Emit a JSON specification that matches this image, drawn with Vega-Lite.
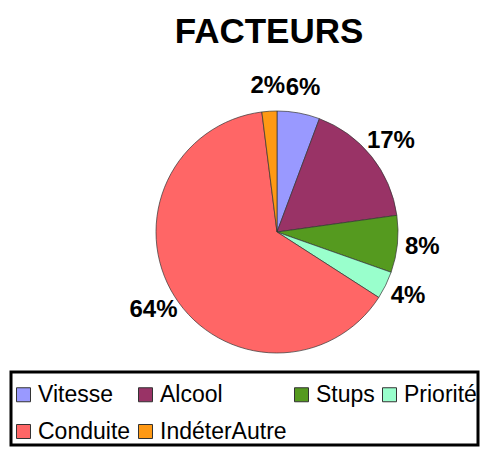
{
  "$schema": "https://vega.github.io/schema/vega-lite/v6.json",
  "autosize": {"type": "none"},
  "padding": {"left": 71, "top": 60, "right": 0, "bottom": 47},
  "width": 412,
  "height": 344,
  "title": {"text": "FACTEURS", "font": "Liberation Sans", "fontSize": 35, "fontWeight": "bold", "color": "#000000", "anchor": "middle", "dx": -8, "offset": 10},
  "data": {"values": [
    {"facteur": "Vitesse", "pct": 5.7, "label": "6%", "ordre": 1},
    {"facteur": "Alcool", "pct": 17.1, "label": "17%", "ordre": 2},
    {"facteur": "Stups", "pct": 7.6, "label": "8%", "ordre": 3},
    {"facteur": "Priorité", "pct": 3.7, "label": "4%", "ordre": 4},
    {"facteur": "Conduite", "pct": 63.9, "label": "64%", "ordre": 5},
    {"facteur": "IndéterAutre", "pct": 2.0, "label": "2%", "ordre": 6}
  ]},
  "encoding": {
    "theta": {"field": "pct", "type": "quantitative", "stack": true},
    "order": {"field": "ordre", "type": "quantitative"}
  },
  "layer": [
    {
      "mark": {"type": "arc", "outerRadius": 121, "stroke": "#333333", "strokeWidth": 0.7},
      "encoding": {
        "color": {
          "field": "facteur", "type": "nominal",
          "scale": {"domain": ["Vitesse", "Alcool", "Stups", "Priorité", "Conduite", "IndéterAutre"],
                    "range": ["#9999FF", "#993366", "#559A1F", "#99FFCC", "#FF6666", "#FF9914"]},
          "legend": {
            "title": " ", "titleFontSize": 10, "titlePadding": 0,
            "orient": "none", "legendX": -60, "legendY": 312,
            "direction": "horizontal", "columns": 4, "columnPadding": 3, "rowPadding": 13,
            "symbolType": "square", "symbolSize": 196, "symbolStrokeColor": "#333333", "symbolStrokeWidth": 1,
            "labelFont": "Liberation Sans", "labelFontSize": 23, "labelColor": "#000000", "labelOffset": 3, "labelLimit": 300,
            "strokeColor": "#000000", "padding": 1, "fillColor": "#FFFFFF"
          }
        }
      }
    },
    {
      "mark": {"type": "text", "radius": 146, "font": "Liberation Sans", "fontSize": 24, "fontWeight": "bold", "color": "#000000"},
      "encoding": {"text": {"field": "label", "type": "nominal"}}
    }
  ],
  "config": {"view": {"stroke": null}, "background": "#FFFFFF", "legend": {"strokeWidth": 3}}
}
